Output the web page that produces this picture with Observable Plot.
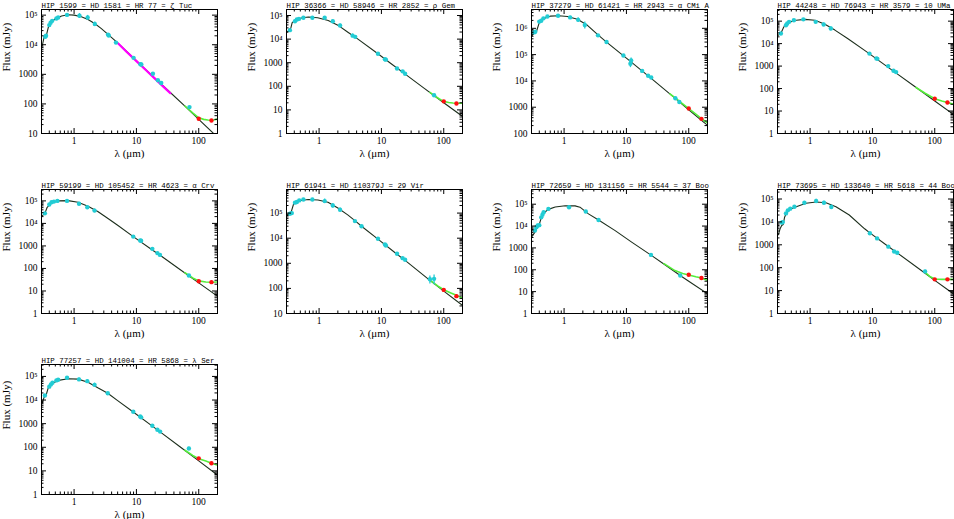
<!DOCTYPE html>
<html><head><meta charset="utf-8">
<script src="https://cdn.jsdelivr.net/npm/d3@7"></script>
<script src="https://cdn.jsdelivr.net/npm/@observablehq/plot@0.6"></script>
<style>
html,body{margin:0;padding:0;background:#fff;}
#fig{position:relative;width:954px;height:519px;overflow:hidden;background:#fff;}
#fig svg{position:absolute;overflow:visible;}
</style></head><body><div id="fig"></div>
<script>
// ---------- tick labels ----------
const xTickValues = [1, 10, 100];
const xTickLabels = ["1", "10", "100"];
const yTickValues = [1, 10, 100, 1000, 1e4, 1e5, 1e6];
const yTickLabels = ["1", "10", "100", "1000", "10⁴", "10⁵", "10⁶"];
const xDomain = [0.3, 200];

// ---------- titles ----------
const titles = [
  "HIP 1599 = HD 1581 = HR 77 = ζ Tuc",
  "HIP 36366 = HD 58946 = HR 2852 = ρ Gem",
  "HIP 37279 = HD 61421 = HR 2943 = α CMi A",
  "HIP 44248 = HD 76943 = HR 3579 = 10 UMa",
  "HIP 59199 = HD 105452 = HR 4623 = α Crv",
  "HIP 61941 = HD 110379J = 29 Vir",
  "HIP 72659 = HD 131156 = HR 5544 = 37 Boo",
  "HIP 73695 = HD 133640 = HR 5618 = 44 Boo",
  "HIP 77257 = HD 141004 = HR 5868 = λ Ser"
];
const yDomains = [[10, 1.55e5], [1, 1.8e5], [100, 5.2e6], [1, 3.3e5], [1, 3.2e5], [10, 8.7e5], [1, 4.7e5], [1, 2.6e5], [1, 3.2e5]];

// ---------- ζ Tuc ----------
const zetTucModel = [[0.3,8.5e3],[0.31,9.6e3],[0.33,1.8e4],[0.36,2.1e4],[0.385,3.8e4],[0.43,6.0e4],[0.52,7.8e4],[0.63,9.3e4],[0.8,1.03e5],[1.0,1.0e5],[1.31,8.8e4],[1.67,7.1e4],[2.14,5.2e4],[2.74,3.5e4],[3.5,2.25e4],[5.0,1.15e4],[9.0,3.6e3],[17,1.0e3],[32,290],[60,84],[100,30],[200,7.5]];
const zetTucTotal = [[60,85],[80,50],[100,34],[120,30],[140,28.5],[160,28],[180,29],[200,31]];
const zetTucPhot = [[0.345,1.85e4,1e3],[0.355,2.0e4,1e3],[0.40,4.6e4,3e3],[0.42,5.5e4,3e3],[0.445,6.4e4,3e3],[0.52,7.7e4,3e3],[0.555,8.3e4,3e3],[0.77,1.02e5,4e3],[1.22,9.5e4,1.8e4],[1.65,8.3e4,1.5e4],[2.15,5.0e4,9e3],[3.5,2.2e4,1e3],[3.6,2.05e4,1e3],[4.7,1.18e4,5e2],[9.0,3.6e3,1.2e2],[11.6,2.2e3,1e2],[12.0,2.15e3,1e2],[18.4,1.05e3,40],[22.1,630,30],[25,510,25],[71,78,5]];
const zetTucPacs = [[100,31.6,2],[160,27.6,2]];
const zetTucIrs = [[5.1,1.1e4],[7,5.7e3],[10,2.8e3],[14,1.43e3],[20,700],[27,385],[35,230]];

// ---------- ρ Gem ----------
const rhoGemModel = [[0.3,1.9e4],[0.34,2.4e4],[0.355,3.2e4],[0.37,5.0e4],[0.42,6.4e4],[0.52,7.9e4],[0.67,8.6e4],[0.95,8.0e4],[1.4,6.1e4],[2.0,3.9e4],[2.9,1.95e4],[4.1,1.05e4],[8.8,2.4e3],[14,950],[25,305],[47,88],[86,27],[100,20],[200,5.3]];
const rhoGemTotal = [[60,55],[70,41],[85,29],[100,23],[120,20.5],[140,19.5],[160,19.2],[200,19]];
const rhoGemPhot = [[0.34,2.4e4,1.5e3],[0.41,5.7e4,3e3],[0.44,6.8e4,3e3],[0.475,7.2e4,3e3],[0.56,8.0e4,3e3],[0.78,8.0e4,3e3],[1.23,8.0e4,1.2e4],[1.66,5.7e4,8e3],[2.17,3.8e4,6e3],[3.45,1.4e4,2.5e3],[3.8,1.25e4,1e3],[8.8,2.4e3,1e2],[11.4,1.4e3,80],[11.8,1.35e3,80],[17.8,570,30],[21.9,430,25],[24,340,40],[70,42,4]];
const rhoGemPacs = [[100,23,2],[160,18.6,2]];

// ---------- α CMi A ----------
const alfCMiModel = [[0.3,4.8e5],[0.33,7.0e5],[0.36,7.6e5],[0.4,1.65e6],[0.46,2.3e6],[0.6,2.9e6],[0.83,3.0e6],[1.13,2.8e6],[1.64,2.2e6],[2.37,1.3e6],[3.5,5.6e5],[4.8,3.0e5],[9.0,9.0e4],[12,5.2e4],[18,2.35e4],[25,1.25e4],[60,2.2e3],[100,800],[160,315],[200,205]];
const alfCMiTotal = [[50,3.2e3],[60,2.3e3],[80,1.35e3],[100,890],[130,550],[160,370],[200,255]];
const alfCMiPhot = [[0.33,7.0e5,4e4],[0.345,7.4e5,4e4],[0.40,1.8e6,1e5],[0.43,1.95e6,1e5],[0.466,2.4e6,1e5],[0.54,2.8e6,1e5],[0.8,3.0e6,1e5],[1.25,2.6e6,3e5],[1.68,2.1e6,4e5],[2.15,1.34e6,4e5],[3.5,5.4e5,2e4],[4.8,3.0e5,1.5e4],[8.95,9.3e4,3e3],[11.9,6.0e4,1.5e4],[11.6,4.5e4,1.3e4],[17.9,2.4e4,1e3],[22.3,1.58e4,6e2],[25,1.35e4,6e2],[61,2.2e3,1e2],[70.6,1.58e3,80]];
const alfCMiPacs = [[100,890,40],[160,360,25]];

// ---------- 10 UMa ----------
const uma10Model = [[0.3,2.2e4],[0.31,2.4e4],[0.34,2.9e4],[0.38,5.6e4],[0.45,8.7e4],[0.6,1.1e5],[0.83,1.2e5],[1.2,1.1e5],[1.73,7.3e4],[2.5,4.0e4],[4.0,1.7e4],[7.5,5.0e3],[9,3.5e3],[13.7,1.5e3],[25,450],[46,133],[100,28],[200,7]];
const uma10Total = [[50,112],[70,62],[100,35],[130,28],[160,24],[200,20]];
const uma10Phot = [[0.34,2.8e4,2e3],[0.41,6.6e4,3e3],[0.43,7.9e4,3e3],[0.46,9.3e4,4e3],[0.55,1.1e5,4e3],[0.78,1.2e5,4e3],[1.23,9.3e4,1.5e4],[1.65,7.1e4,1.2e4],[2.15,4.7e4,1e4],[8.96,3.6e3,1.5e2],[11.6,2.2e3,1e2],[12,2.1e3,1e2],[17.9,1.0e3,50],[21.8,620,30],[24,540,30]];
const uma10Pacs = [[100,35,3],[160,24,2.5]];

// ---------- α Crv ----------
const alfCrvModel = [[0.3,2.0e4],[0.31,2.2e4],[0.34,2.8e4],[0.37,5.2e4],[0.44,8.5e4],[0.56,1.0e5],[0.8,1.03e5],[1.16,8.7e4],[1.67,5.8e4],[2.4,3.4e4],[3.5,1.65e4],[5.0,8.3e3],[8.9,2.6e3],[18,660],[24,385],[50,90],[100,23],[200,5.8]];
const alfCrvTotal = [[60,65],[80,38],[100,28],[130,25],[160,24.5],[200,25]];
const alfCrvPhot = [[0.34,2.8e4,2e3],[0.40,6.9e4,3e3],[0.435,8.7e4,3e3],[0.475,9.3e4,3e3],[0.54,1.0e5,4e3],[0.77,1.0e5,4e3],[1.2,7.4e4,1.3e4],[1.63,5.2e4,1e4],[2.13,3.7e4,7e3],[8.9,2.6e3,1e2],[11.5,1.75e3,80],[11.9,1.7e3,80],[18,740,30],[21.7,480,25],[23.9,400,20],[69.5,49,4]];
const alfCrvPacs = [[100,27,2.5],[160,24.7,2.5]];

// ---------- 29 Vir ----------
const vir29Model = [[0.3,8.0e4],[0.31,8.4e4],[0.35,9.5e4],[0.39,2.3e5],[0.47,3.1e5],[0.67,3.5e5],[0.96,3.3e5],[1.39,2.7e5],[2.0,1.6e5],[2.88,8.5e4],[3.76,5.0e4],[4.8,3.0e4],[8.8,9.2e3],[17.8,2.3e3],[24,1.3e3],[60,210],[100,78],[200,21]];
const vir29Total = [[60,215],[80,125],[100,88],[130,66],[160,53],[200,41]];
const vir29Phot = [[0.34,9.4e4,5e3],[0.365,1.0e5,5e3],[0.41,2.6e5,1.5e4],[0.44,2.75e5,1.5e4],[0.48,3.2e5,1.5e4],[0.56,3.5e5,1.5e4],[0.78,3.5e5,1.5e4],[1.23,3.0e5,6e4],[1.66,2.0e5,4e4],[2.17,1.36e5,2.5e4],[3.76,4.8e4,2e3],[4.8,3.0e4,1.5e3],[8.8,9.5e3,4e2],[11.4,5.6e3,3e2],[11.8,5.1e3,3e2],[17.8,2.4e3,1e2],[21.9,1.6e3,80],[24,1.38e3,70],[60,230,80],[70,240,100]];
const vir29Pacs = [[100,87,6],[160,49,5]];

// ---------- 37 Boo ----------
const boo37Model = [[0.3,3.2e3],[0.31,3.5e3],[0.34,5.3e3],[0.37,1.0e4],[0.4,1.2e4],[0.44,2.9e4],[0.5,4.5e4],[0.56,5.8e4],[0.72,7.5e4],[1.04,8.5e4],[1.5,8.4e4],[1.8,7.3e4],[2.46,3.6e4],[3.57,1.9e4],[6.6,6.2e3],[12.3,1.8e3],[24.8,470],[42,165],[78,48],[100,30],[200,8]];
const boo37Total = [[40,190],[45,155],[60,92],[80,68],[100,58],[130,48],[160,42],[200,33]];
const boo37Phot = [[0.34,6.3e3,5e2],[0.36,8.9e3,5e2],[0.377,1.06e4,5e2],[0.40,1.1e4,5e2],[0.43,2.5e4,1e3],[0.45,3.3e4,1.5e3],[0.47,4.3e4,2e3],[0.56,6.1e4,3e3],[1.2,7.3e4,3e3],[2.23,4.6e4,2e3],[3.57,1.9e4,8e2],[24.8,480,20],[73,55,4]];
const boo37Pacs = [[100,59,5],[160,42,4]];

// ---------- 44 Boo ----------
const boo44Model = [[0.3,2.6e3],[0.31,2.8e3],[0.33,5.0e3],[0.35,7.0e3],[0.37,7.7e3],[0.39,1.6e4],[0.42,2.5e4],[0.47,3.5e4],[0.6,4.6e4],[0.86,6.5e4],[1.25,7.4e4],[1.8,6.9e4],[2.6,4.6e4],[4.25,2.0e4],[7.5,5.0e3],[9.1,3.3e3],[18,840],[25,445],[70,57],[100,28],[200,7.2]];
const boo44Total = [[70,62],[85,40],[100,32],[130,31],[160,31],[200,31]];
const boo44Phot = [[0.35,9.3e3,8e2],[0.365,9.8e3,8e2],[0.41,2.35e4,1.5e3],[0.44,3.2e4,1.5e3],[0.48,3.8e4,1.5e3],[0.56,4.6e4,2e3],[0.81,6.9e4,3e3],[1.25,8.2e4,1.5e4],[1.67,6.9e4,1.1e4],[2.19,4.5e4,1e4],[9.1,3.2e3,1.3e2],[11.9,1.9e3,80],[18,830,35],[22.3,510,25],[25,450,25],[70,69,8]];
const boo44Pacs = [[100,31,2.5],[160,31,2.5]];

// ---------- λ Ser ----------
const lamSerModel = [[0.3,7.0e3],[0.31,8.0e3],[0.33,1.3e4],[0.36,1.8e4],[0.385,3.3e4],[0.43,4.9e4],[0.56,6.8e4],[0.8,8.0e4],[1.16,7.7e4],[1.67,5.7e4],[2.4,3.3e4],[3.47,1.95e4],[5.0,9.5e3],[8.9,3.1e3],[18,790],[24,450],[50,105],[100,26.5],[200,6.6]];
const lamSerTotal = [[60,75],[80,45],[100,33],[130,26],[160,21],[200,17.5]];
const lamSerPhot = [[0.34,1.55e4,1e3],[0.40,3.7e4,2e3],[0.425,4.6e4,2e3],[0.45,5.4e4,2e3],[0.52,6.8e4,3e3],[0.555,7.2e4,3e3],[0.77,8.8e4,3e3],[1.2,7.5e4,1e4],[1.63,6.3e4,1e4],[2.13,4.4e4,8e3],[3.47,1.95e4,8e2],[8.9,3.2e3,1.3e2],[11.5,2.0e3,80],[11.9,1.85e3,80],[18,810,35],[21.7,550,25],[24,460,25],[69.5,89,10]];
const lamSerPacs = [[100,34,3],[160,21,2]];

const stars = [
  {model: zetTucModel, total: zetTucTotal, phot: zetTucPhot, pacs: zetTucPacs, irs: zetTucIrs},
  {model: rhoGemModel, total: rhoGemTotal, phot: rhoGemPhot, pacs: rhoGemPacs},
  {model: alfCMiModel, total: alfCMiTotal, phot: alfCMiPhot, pacs: alfCMiPacs},
  {model: uma10Model, total: uma10Total, phot: uma10Phot, pacs: uma10Pacs},
  {model: alfCrvModel, total: alfCrvTotal, phot: alfCrvPhot, pacs: alfCrvPacs},
  {model: vir29Model, total: vir29Total, phot: vir29Phot, pacs: vir29Pacs},
  {model: boo37Model, total: boo37Total, phot: boo37Phot, pacs: boo37Pacs},
  {model: boo44Model, total: boo44Total, phot: boo44Phot, pacs: boo44Pacs},
  {model: lamSerModel, total: lamSerTotal, phot: lamSerPhot, pacs: lamSerPacs}
];

// ---------- layout ----------
const colLeft = [41, 286, 531, 777];
const rowTop = [9, 189, 364];
const rowH = [124, 124, 130];
const FW = 176, ML = 41, MR = 4, MT = 12, MB = 32;
const CYAN = "#22ccd4", RED = "#ff1010", GREEN = "#55ee3a", MAG = "#ff00ff", LINE = "#1c2e1c";
const SERIF = "'Liberation Serif', 'Times New Roman', serif";

const isDecade = v => Math.abs(Math.log10(v) - Math.round(Math.log10(v))) < 1e-9;
const fig = document.getElementById("fig");

stars.forEach((s, i) => {
  const col = i % 4, row = Math.floor(i / 4);
  const fh = rowH[row];
  const yd = yDomains[i];
  const xAll = d3.scaleLog().domain(xDomain).ticks();
  const yAll = d3.scaleLog().domain(yd).ticks();
  const xMaj = xAll.filter(isDecade), xMin = xAll.filter(v => !isDecade(v));
  const yMaj = yAll.filter(isDecade), yMin = yAll.filter(v => !isDecade(v));
  const lbl = (vals, labs) => v => { const k = vals.findIndex(t => Math.abs(t - v) / v < 1e-9); return k < 0 ? "" : labs[k]; };
  const phot = s.phot.map(([lam, f, e]) => ({lam, f, lo: f - e, hi: f + e}));
  const pacs = s.pacs.map(([lam, f, e]) => ({lam, f, lo: f - e, hi: f + e}));
  const marks = [
    Plot.line(s.model, {x: d => d[0], y: d => d[1], stroke: LINE, strokeWidth: 1.1, clip: true}),
    Plot.line(s.total, {x: d => d[0], y: d => d[1], stroke: GREEN, strokeWidth: 1.6, clip: true})
  ];
  if (s.irs) marks.push(Plot.line(s.irs, {x: d => d[0], y: d => d[1], stroke: MAG, strokeWidth: 2.2, clip: true}));
  marks.push(
    Plot.ruleX(phot, {x: "lam", y1: "lo", y2: "hi", stroke: CYAN, strokeWidth: 1.3, clip: true}),
    Plot.dot(phot, {x: "lam", y: "f", r: 2.2, fill: CYAN, clip: true}),
    Plot.ruleX(pacs, {x: "lam", y1: "lo", y2: "hi", stroke: RED, strokeWidth: 1.2, clip: true}),
    Plot.dot(pacs, {x: "lam", y: "f", r: 2.2, fill: RED, clip: true}),
    Plot.frame({stroke: "#000", strokeWidth: 1}),
    // inward ticks, all four sides
    Plot.ruleX(xMaj, {x: d => d, insetTop: fh - 5, stroke: "#000"}),
    Plot.ruleX(xMaj, {x: d => d, insetBottom: fh - 5, stroke: "#000"}),
    Plot.ruleX(xMin, {x: d => d, insetTop: fh - 2.5, stroke: "#000"}),
    Plot.ruleX(xMin, {x: d => d, insetBottom: fh - 2.5, stroke: "#000"}),
    Plot.ruleY(yMaj, {y: d => d, insetRight: FW - 5, stroke: "#000"}),
    Plot.ruleY(yMaj, {y: d => d, insetLeft: FW - 5, stroke: "#000"}),
    Plot.ruleY(yMin, {y: d => d, insetRight: FW - 2.5, stroke: "#000"}),
    Plot.ruleY(yMin, {y: d => d, insetLeft: FW - 2.5, stroke: "#000"}),
    // tick labels
    Plot.axisX({anchor: "bottom", ticks: xMaj, tickFormat: lbl(xTickValues, xTickLabels), tickSize: 0, tickPadding: 4, label: null, fontSize: 9.5, fontFamily: SERIF}),
    Plot.axisY({anchor: "left", ticks: yMaj, tickFormat: lbl(yTickValues, yTickLabels), tickSize: 0, tickPadding: 4, label: null, fontSize: 9.5, fontFamily: SERIF}),
    // axis titles and panel title
    Plot.text(["λ (μm)"], {text: d => d, frameAnchor: "bottom", dy: 23, fontSize: 11, fontFamily: SERIF}),
    Plot.text(["Flux (mJy)"], {text: d => d, frameAnchor: "left", dx: -35, rotate: -90, fontSize: 11, fontFamily: SERIF}),
    Plot.text([titles[i]], {text: d => d, frameAnchor: "top-left", textAnchor: "start", lineAnchor: "bottom", dy: -2, fontSize: 7.4, fontFamily: "'Liberation Mono', monospace"})
  );
  const svg = Plot.plot({
    width: ML + FW + MR, height: MT + fh + MB,
    marginLeft: ML, marginRight: MR, marginTop: MT, marginBottom: MB,
    x: {type: "log", domain: xDomain},
    y: {type: "log", domain: yd},
    style: {background: "transparent", color: "#000", fontFamily: SERIF, overflow: "visible"},
    marks
  });
  svg.style.left = (colLeft[col] - ML) + "px";
  svg.style.top = (rowTop[row] - MT) + "px";
  fig.appendChild(svg);
});
</script></body></html>
